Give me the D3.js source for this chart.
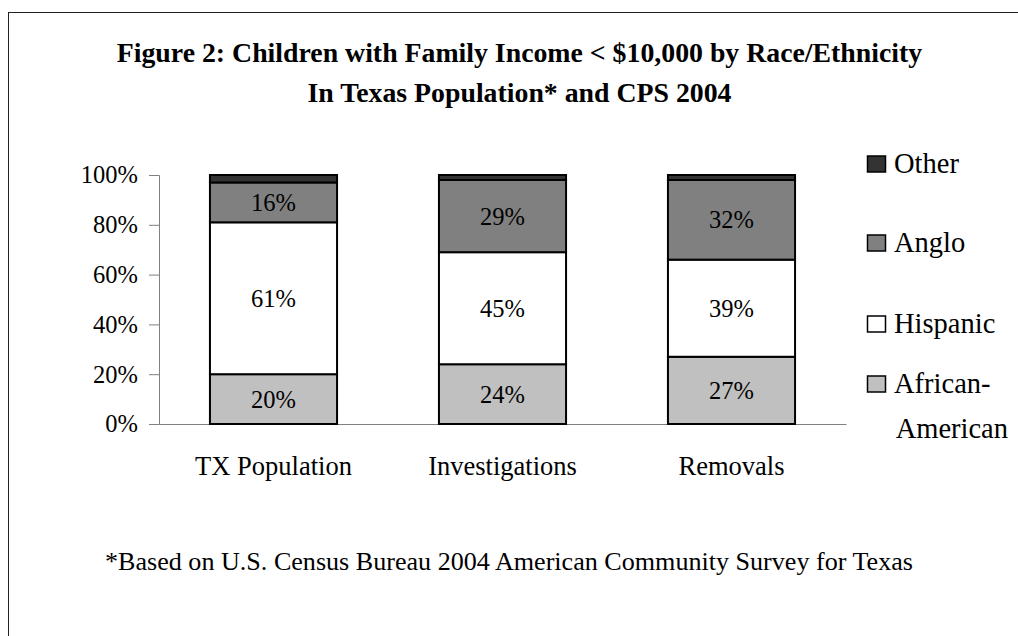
<!DOCTYPE html>
<html>
<head>
<meta charset="utf-8">
<script src="https://cdn.jsdelivr.net/npm/d3@7"></script>
<style>
  html, body { margin: 0; padding: 0; background: #fff; }
  svg text { font-family: "Liberation Serif", "Times New Roman", serif; fill: #000; }
</style>
</head>
<body>
<svg id="chart" width="1018" height="636"></svg>
<script>
// data
var categories = ["TX Population", "Investigations", "Removals"];
var seriesNames = ["African-American", "Hispanic", "Anglo", "Other"];
var africanAmerican = [20, 24, 27];
var hispanic = [61, 45, 39];
var anglo = [16, 29, 32];
var other = [3, 2, 2];
var yTicks = [0, 20, 40, 60, 80, 100];
var titleLines = [
  "Figure 2: Children with Family Income < $10,000 by Race/Ethnicity",
  "In Texas Population* and CPS 2004"
];
var footnote = "*Based on U.S. Census Bureau 2004 American Community Survey for Texas";

var colors = {
  "African-American": "#c0c0c0",
  "Hispanic": "#ffffff",
  "Anglo": "#808080",
  "Other": "#333333"
};

/*
 * build rows for the stack layout
 */
var rows = categories.map(function (c, i) {
  return {
    category: c,
    "African-American": africanAmerican[i],
    "Hispanic": hispanic[i],
    "Anglo": anglo[i],
    "Other": other[i]
  };
});

var svg = d3.select("#chart");

// outer frame (only top and left edges fall inside the picture)
svg.append("rect")
  .attr("x", 8.5).attr("y", 12.5)
  .attr("width", 1200).attr("height", 1000)
  .attr("fill", "none")
  .attr("stroke", "#222").attr("stroke-width", 1);

// title
svg.append("g").selectAll("text")
  .data(titleLines)
  .join("text")
  .attr("x", 519.5)
  .attr("y", function (d, i) { return 62 + i * 40; })
  .attr("text-anchor", "middle")
  .style("font-size", "27.8px")
  .style("font-weight", "bold")
  .text(function (d) { return d; });

var x = d3.scaleBand()
  .domain(categories)
  .range([159, 846])
  .paddingInner(0.445)
  .paddingOuter(0.2225);

var y = d3.scaleLinear()
  .domain([0, 100])
  .range([424, 175]);

// y axis
var yAxis = svg.append("g")
  .attr("transform", "translate(159,0)")
  .call(d3.axisLeft(y)
    .tickValues(yTicks)
    .tickSize(10)
    .tickPadding(11)
    .tickFormat(function (d) { return d + "%"; }));
yAxis.select(".domain").attr("stroke", "#808080");
yAxis.selectAll(".tick line").attr("stroke", "#808080");
yAxis.selectAll(".tick text")
  .style("font-size", "24.5px")
  .attr("font-family", null);

// x axis
var xAxis = svg.append("g")
  .attr("transform", "translate(0,424)")
  .call(d3.axisBottom(x).tickSize(0).tickPadding(0));
xAxis.select(".domain").attr("stroke", "#808080");
xAxis.selectAll(".tick text")
  .attr("y", 51)
  .attr("dy", null)
  .style("font-size", "26.5px")
  .attr("font-family", null);

var stack = d3.stack().keys(seriesNames);
var layers = stack(rows);

var layerG = svg.append("g").selectAll("g")
  .data(layers)
  .join("g")
  .attr("fill", function (d) { return colors[d.key]; });

layerG.selectAll("rect")
  .data(function (d) { return d; })
  .join("rect")
  .attr("x", function (d) { return x(d.data.category); })
  .attr("width", x.bandwidth())
  .attr("y", function (d) { return y(d[1]); })
  .attr("height", function (d) { return y(d[0]) - y(d[1]); })
  .attr("stroke", "#000")
  .attr("stroke-width", 2);

// value labels (not for the thin "Other" slice)
layers.filter(function (l) { return l.key !== "Other"; }).forEach(function (l) {
  svg.append("g").selectAll("text")
    .data(l)
    .join("text")
    .attr("x", function (d) { return x(d.data.category) + x.bandwidth() / 2; })
    .attr("y", function (d) { return (y(d[0]) + y(d[1])) / 2; })
    .attr("dy", "0.35em")
    .attr("text-anchor", "middle")
    .style("font-size", "24.5px")
    .text(function (d) { return (d[1] - d[0]) + "%"; });
});

// legend, top to bottom
var legendItems = [
  { key: "Other", lines: ["Other"], base: 173 },
  { key: "Anglo", lines: ["Anglo"], base: 252 },
  { key: "Hispanic", lines: ["Hispanic"], base: 333 },
  { key: "African-American", lines: ["African-", "American"], base: 393 }
];
var legend = svg.append("g").selectAll("g")
  .data(legendItems)
  .join("g");

legend.append("rect")
  .attr("x", 867.5)
  .attr("y", function (d) { return d.base - 17; })
  .attr("width", 18)
  .attr("height", 16)
  .attr("fill", function (d) { return colors[d.key]; })
  .attr("stroke", "#000")
  .attr("stroke-width", 1.5);

legend.append("text")
  .attr("x", 894)
  .attr("y", function (d) { return d.base; })
  .style("font-size", "28.5px")
  .selectAll("tspan")
  .data(function (d) { return d.lines; })
  .join("tspan")
  .attr("x", function (d, i) { return i === 0 ? 894 : 1008; })
  .attr("text-anchor", function (d, i) { return i === 0 ? "start" : "end"; })
  .attr("dy", function (d, i) { return i === 0 ? 0 : 45; })
  .text(function (d) { return d; });

// footnote
svg.append("text")
  .attr("x", 105)
  .attr("y", 570)
  .style("font-size", "26.1px")
  .text(footnote);
</script>
</body>
</html>
